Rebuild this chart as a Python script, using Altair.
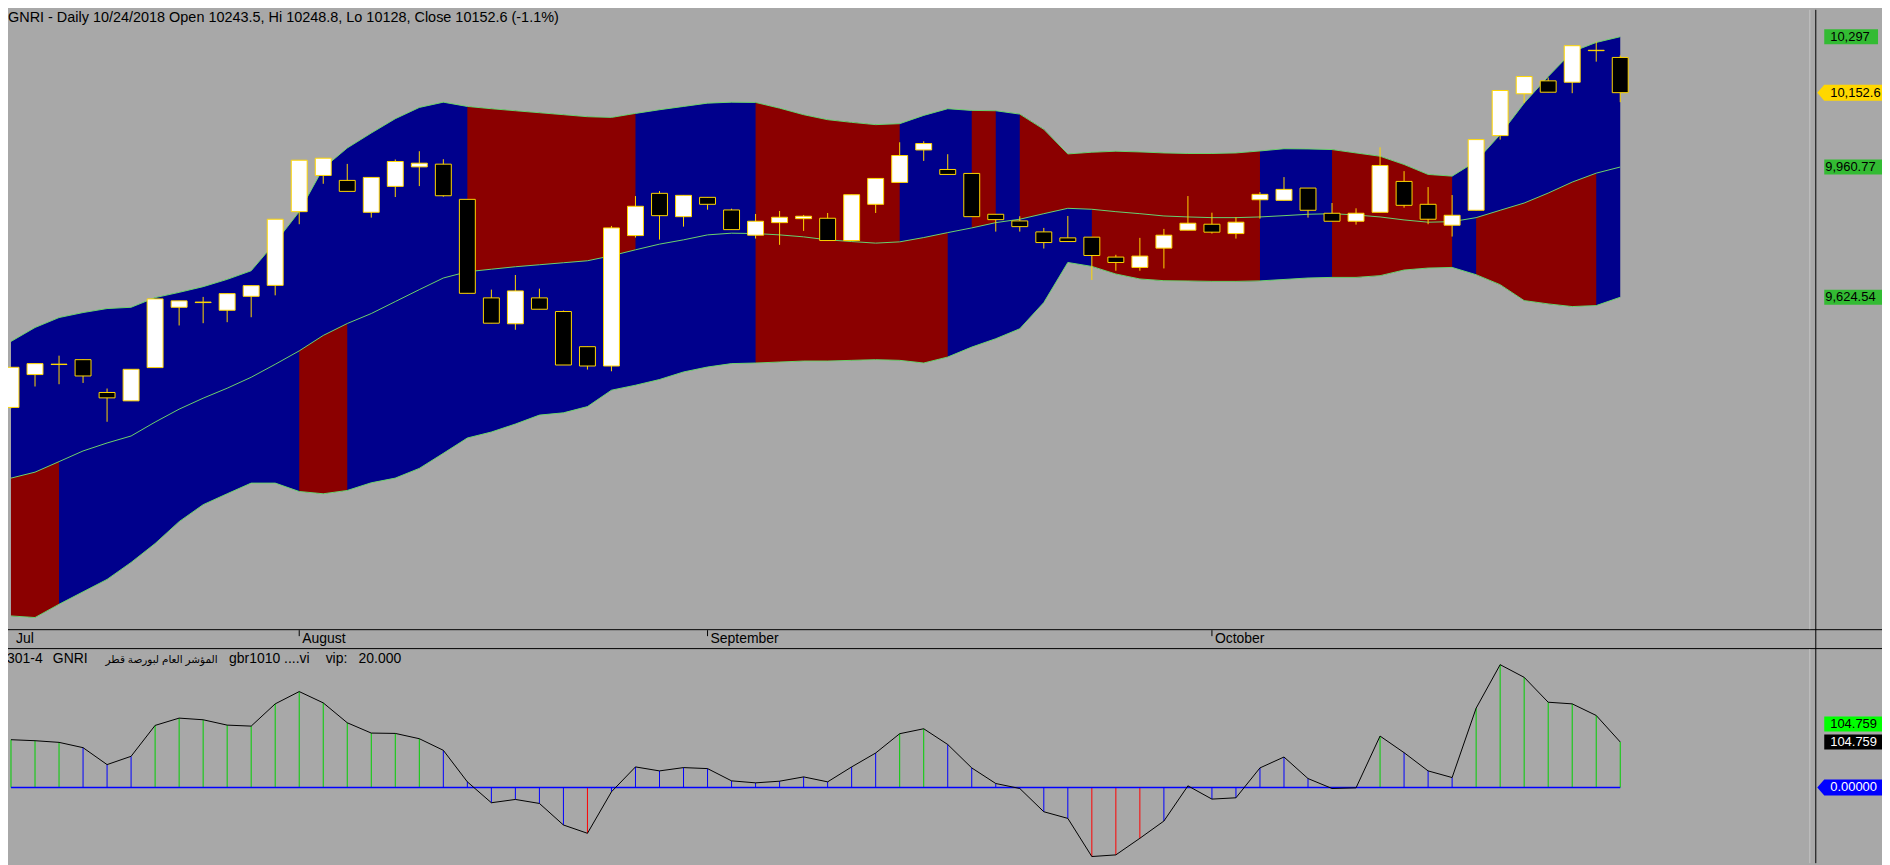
import altair as alt
import pandas as pd

# ---------------- data ----------------
opens = [9340.3, 9425.1, 9451.0, 9463.6, 9378.9, 9357.3, 9443.1, 9598.8, 9610.9, 9591.1,
         9627.1, 9655.3, 9845.5, 9939.0, 9926.2, 9843.9, 9910.8, 9961.1, 9968.1, 9877.3,
         9623.0, 9556.2, 9623.0, 9587.8, 9497.1, 9447.2, 9783.8, 9892.8, 9832.6, 9882.5,
         9849.9, 9784.8, 9817.2, 9827.5, 9828.5, 9771.0, 9864.5, 9921.0, 10004.8, 9954.4,
         9944.2, 9838.8, 9821.6, 9793.3, 9777.9, 9779.7, 9728.3, 9701.6, 9751.4, 9797.7,
         9813.1, 9789.0, 9876.3, 9874.8, 9906.4, 9841.4, 9820.8, 9843.9, 9923.6, 9864.5,
         9810.5, 9849.1, 10041.8, 10149.7, 10183.1, 10179.5, 10261.0, 10243.5]
highs = [9444.5, 9453.4, 9473.9, 9464.0, 9389.1, 9438.7, 9620.4, 9615.3, 9625.5, 9634.0,
         9654.6, 9826.0, 9978.3, 9983.5, 9968.8, 9933.9, 9980.1, 10001.5, 9980.9, 9877.3,
         9644.3, 9682.1, 9646.9, 9590.3, 9497.1, 9808.7, 9885.8, 9898.7, 9887.6, 9882.5,
         9853.2, 9839.6, 9847.3, 9837.0, 9842.1, 9889.2, 9931.3, 10024.6, 10027.2, 9993.8,
         9944.2, 9838.8, 9833.7, 9803.6, 9834.4, 9779.7, 9734.2, 9777.9, 9801.0, 9885.8,
         9842.9, 9831.1, 9896.1, 9934.7, 9906.4, 9867.8, 9854.2, 10011.7, 9950.1, 9909.0,
         9888.4, 10031.5, 10158.2, 10194.2, 10191.6, 10273.8, 10284.1, 10248.8]
lows = [9338.0, 9394.3, 9400.2, 9403.5, 9303.3, 9357.3, 9443.1, 9551.8, 9557.7, 9560.3,
        9573.1, 9629.6, 9813.1, 9917.4, 9897.9, 9830.1, 9883.3, 9911.5, 9884.0, 9634.8,
        9557.7, 9540.7, 9593.7, 9449.8, 9438.0, 9433.6, 9778.7, 9773.5, 9806.9, 9850.6,
        9799.2, 9776.1, 9759.9, 9795.9, 9770.2, 9771.0, 9842.1, 9921.0, 9976.5, 9941.6,
        9832.6, 9794.1, 9794.1, 9750.4, 9767.6, 9669.2, 9693.1, 9693.1, 9699.0, 9797.7,
        9789.0, 9776.1, 9827.5, 9874.8, 9830.1, 9820.8, 9812.1, 9843.9, 9855.8, 9813.1,
        9781.3, 9849.1, 10031.5, 10125.6, 10153.8, 10151.3, 10232.7, 10128.0]
closes = [9443.9, 9453.4, 9452.0, 9421.5, 9365.0, 9438.7, 9620.4, 9615.3, 9612.2, 9634.0,
          9654.6, 9826.0, 9978.3, 9983.5, 9897.9, 9933.9, 9975.0, 9970.6, 9886.6, 9634.8,
          9557.7, 9641.0, 9593.7, 9449.8, 9447.2, 9803.6, 9859.4, 9835.2, 9887.6, 9864.5,
          9799.2, 9820.8, 9831.1, 9833.7, 9771.0, 9889.2, 9931.3, 9990.4, 10021.3, 9941.6,
          9832.6, 9824.9, 9806.9, 9765.8, 9768.4, 9732.4, 9714.4, 9730.9, 9784.8, 9815.7,
          9792.6, 9818.3, 9890.2, 9903.0, 9849.1, 9820.8, 9841.4, 9964.7, 9861.9, 9826.0,
          9836.2, 10031.5, 10158.2, 10194.2, 10153.8, 10273.8, 10262.0, 10152.6]
upper_band = [9510.7, 9546.6, 9572.3, 9585.2, 9595.5, 9598.8, 9623.7, 9637.3, 9652.0, 9670.8,
              9693.1, 9765.8, 9845.5, 9957.8, 10009.9, 10048.5, 10085.5, 10114.5, 10128.1, 10117.1,
              10111.2, 10106.0, 10100.9, 10095.8, 10090.6, 10088.8, 10099.1, 10108.6, 10117.1, 10125.6,
              10128.1, 10127.4, 10112.7, 10095.8, 10082.9, 10076.0, 10070.1, 10072.6, 10094.0, 10111.2,
              10106.8, 10106.0, 10097.3, 10058.0, 9994.5, 9998.9, 10001.5, 9999.7, 9997.1, 9995.6,
              9995.6, 9997.1, 10002.2, 10007.9, 10007.4, 10005.8, 9997.1, 9988.6, 9967.3, 9941.6,
              9937.2, 9975.8, 10044.4, 10125.6, 10194.2, 10258.4, 10282.3, 10297.0]
middle_band = [9157.9, 9173.3, 9200.5, 9228.0, 9248.6, 9266.6, 9302.5, 9335.9, 9364.2, 9389.9,
               9418.2, 9451.6, 9486.3, 9526.1, 9556.9, 9582.6, 9613.5, 9644.3, 9674.3, 9690.5,
               9697.0, 9703.4, 9708.5, 9713.7, 9718.8, 9731.7, 9747.1, 9761.7, 9772.8, 9785.6,
               9790.0, 9789.0, 9785.6, 9780.5, 9772.8, 9768.4, 9764.3, 9767.6, 9778.7, 9791.5,
               9803.6, 9817.2, 9826.0, 9840.3, 9854.2, 9851.7, 9845.5, 9840.3, 9834.4, 9831.9,
               9830.1, 9830.1, 9831.9, 9835.2, 9838.8, 9840.3, 9837.0, 9831.9, 9824.2, 9818.3,
               9819.8, 9830.1, 9849.1, 9867.8, 9893.5, 9921.8, 9944.9, 9960.77]
lower_band = [8802.2, 8798.1, 8832.3, 8864.4, 8896.5, 8940.2, 8989.0, 9045.6, 9089.3, 9117.5,
              9145.0, 9145.0, 9123.4, 9117.5, 9126.0, 9145.8, 9157.9, 9183.0, 9221.8, 9261.4,
              9276.8, 9297.4, 9320.5, 9326.4, 9342.4, 9384.8, 9397.6, 9412.3, 9431.8, 9444.6,
              9453.4, 9454.9, 9457.5, 9460.0, 9460.0, 9461.8, 9463.6, 9461.8, 9454.9, 9470.3,
              9496.0, 9517.6, 9543.3, 9610.9, 9714.4, 9704.2, 9684.6, 9671.8, 9667.4, 9666.6,
              9665.6, 9665.6, 9666.9, 9670.5, 9674.3, 9675.9, 9675.9, 9680.3, 9694.9, 9700.0,
              9701.6, 9682.8, 9657.1, 9616.0, 9607.5, 9600.6, 9603.2, 9624.54]
indicator = [110.0, 107.7, 103.9, 91.7, 52.7, 71.8, 142.9, 159.7, 155.9, 143.6,
             141.3, 192.5, 220.8, 194.8, 149.0, 125.3, 124.5, 112.3, 85.6, 13.0,
             -35.1, -27.5, -36.7, -86.3, -105.4, -9.9, 47.4, 38.2, 45.8, 43.5,
             15.3, 10.7, 14.5, 24.4, 13.0, 47.4, 79.4, 123.8, 135.2, 99.0,
             45.1, 9.2, -2.3, -55.8, -71.1, -158.9, -155.1, -116.9, -77.2, 3.8,
             -26.7, -23.7, 45.1, 70.2, 20.6, -2.3, -0.8, 118.4, 80.2, 38.2,
             22.9, 182.6, 282.7, 253.6, 196.3, 192.5, 165.8, 104.759]
upper_red_runs = [(19, 26), (31, 37), (40, 41), (42, 52), (55, 60)]
lower_red_runs = [(0, 2), (12, 14), (31, 39), (45, 52), (55, 60), (61, 66)]
month_names = ["Jul", "August", "September", "October"]
month_start_bar = [0, 12, 29, 50]
price_label_values = [10297, 10152.6, 9960.77, 9624.54]
price_label_texts = ["10,297", "10,152.6", "9,960.77", "9,624.54"]
ind_label_values = [104.759, 104.759, 0.0]
ind_label_texts = ["104.759", "104.759", "0.00000"]
title_text = "GNRI - Daily 10/24/2018 Open 10243.5, Hi 10248.8, Lo 10128, Close 10152.6 (-1.1%)"
header_parts = ["301-4", "GNRI", "المؤشر العام لبورصة قطر", "gbr1010 ....vi", "vip:", "20.000"]

# ---------------- styling ----------------
FONT = "Liberation Sans, Arial, DejaVu Sans, sans-serif"
W, H = 1882, 857
BG = "#A8A8A8"
BLUE = "#00008C"
RED = "#8B0000"
LINE = "#6CD36C"
CANDLE = "#FFD700"
LGREEN = "#33BB33"

n = len(closes)
df = pd.DataFrame({
    "i": list(range(n)), "open": opens, "high": highs, "low": lows, "close": closes,
    "upper": upper_band, "middle": middle_band, "lower": lower_band, "ind": indicator,
})

xs = alt.Scale(domain=[0.0825, 77.6907], nice=False, zero=False)
ys_top = alt.Scale(domain=[8164.2, 10366.4], nice=False, zero=False)
ys_bot = alt.Scale(domain=[-174.2, 1790.1], nice=False, zero=False)


def X(f="i"):
    return alt.X(f + ":Q", scale=xs, axis=None)


def YT(f):
    return alt.Y(f + ":Q", scale=ys_top, axis=None)


def YB(f):
    return alt.Y(f + ":Q", scale=ys_bot, axis=None)


def runs_df(runs, top, bot):
    rows = []
    for k, (a, b) in enumerate(runs):
        for j in range(a, b + 1):
            rows.append({"run": k, "i": j, "top": top[j], "bot": bot[j]})
    return pd.DataFrame(rows)


base = alt.Chart(df)

# ---------------- price panel ----------------
band_fill = base.mark_area(color=BLUE, opacity=1).encode(x=X(), y=YT("upper"), y2="lower:Q")
red_u = alt.Chart(runs_df(upper_red_runs, upper_band, middle_band)).mark_area(color=RED, opacity=1).encode(
    x=X(), y=YT("top"), y2="bot:Q", detail="run:N")
red_l = alt.Chart(runs_df(lower_red_runs, middle_band, lower_band)).mark_area(color=RED, opacity=1).encode(
    x=X(), y=YT("top"), y2="bot:Q", detail="run:N")
band_lines = [base.mark_line(color=LINE, strokeWidth=1).encode(x=X(), y=YT(f))
              for f in ["upper", "middle", "lower"]]
wick = base.mark_rule(color=CANDLE, strokeWidth=1).encode(x=X(), y=YT("low"), y2="high:Q")
body = base.mark_bar(size=16, stroke=CANDLE, strokeWidth=1).encode(
    x=X(), y=YT("open"), y2="close:Q",
    fill=alt.condition("datum.close >= datum.open", alt.value("white"), alt.value("black")))

BOX_SHORT = "M-0.65,-0.1875L0.7,-0.1875L0.7,0.1875L-0.65,0.1875Z"
BOX_LONG = "M-0.65,-0.1875L1.1,-0.1875L1.1,0.1875L-0.65,0.1875Z"
ARROW = "M-0.825,0L-0.65,-0.2L1.1,-0.2L1.1,0.2L-0.65,0.2Z"


def label(value, text, fill, tcolor, shape, yscale, text_x, yoff=0):
    d = alt.Chart(pd.DataFrame({"v": [value], "t": [text]}))
    Y = alt.Y("v:Q", scale=yscale, axis=None)
    box = d.mark_point(shape=shape, size=6400, filled=True, color=fill, opacity=1,
                       strokeWidth=0, yOffset=yoff).encode(x=alt.value(1850), y=Y)
    txt = d.mark_text(align="left", baseline="middle", font=FONT, fontSize=13,
                      color=tcolor, yOffset=yoff).encode(x=alt.value(text_x), y=Y, text="t:N")
    return [box, txt]


top_labels = []
top_labels += label(price_label_values[0], price_label_texts[0], LGREEN, "black", BOX_SHORT, ys_top, 1830)
top_labels += label(price_label_values[1], price_label_texts[1], "#FFD700", "black", ARROW, ys_top, 1830)
top_labels += label(price_label_values[2], price_label_texts[2], LGREEN, "black", BOX_LONG, ys_top, 1825)
top_labels += label(price_label_values[3], price_label_texts[3], LGREEN, "black", BOX_LONG, ys_top, 1825)

top = alt.layer(band_fill, red_u, red_l, *band_lines, wick, body, *top_labels)

# ---------------- indicator panel ----------------
ind_base = base.transform_calculate(
    zero="0",
    col="datum.ind > 100 ? '#00D000' : (datum.ind < -100 ? '#FF0000' : '#0000FF')")
stems = ind_base.mark_rule(strokeWidth=1).encode(
    x=X(), y=YB("ind"), y2="zero:Q", color=alt.Color("col:N", scale=None))
zero_line = ind_base.mark_line(color="#0000FF", strokeWidth=1.5).encode(x=X(), y=YB("zero"))
ind_line = base.mark_line(color="black", strokeWidth=1).encode(x=X(), y=YB("ind"))

bot_labels = []
bot_labels += label(ind_label_values[0], ind_label_texts[0], "#00FF00", "black", BOX_LONG, ys_bot, 1830, -18)
bot_labels += label(ind_label_values[1], ind_label_texts[1], "#000000", "white", BOX_LONG, ys_bot, 1830)
bot_labels += label(ind_label_values[2], ind_label_texts[2], "#0000FF", "white", ARROW, ys_bot, 1830)

bottom = alt.layer(stems, zero_line, ind_line, *bot_labels)

# ---------------- frame, texts, month strip ----------------
one = alt.Chart(pd.DataFrame({"a": [0]}))
frame = [
    one.mark_rule(color="black", strokeWidth=1).encode(x=alt.value(0), x2=alt.value(W), y=alt.value(622.5)),
    one.mark_rule(color="black", strokeWidth=1).encode(x=alt.value(0), x2=alt.value(W), y=alt.value(641.5)),
    one.mark_rule(color="#C4C4C4", strokeWidth=1).encode(x=alt.value(1809.5), y=alt.value(0), y2=alt.value(622)),
    one.mark_rule(color="#C4C4C4", strokeWidth=1).encode(x=alt.value(1809.5), y=alt.value(642), y2=alt.value(H)),
    one.mark_rule(color="black", strokeWidth=1).encode(x=alt.value(1815.5), y=alt.value(0), y2=alt.value(H)),
]

months = alt.Chart(pd.DataFrame({"i": month_start_bar, "name": month_names}))
month_ticks = months.transform_filter("datum.i > 0").mark_rule(color="black", strokeWidth=1).encode(
    x=X(), y=alt.value(623), y2=alt.value(629))
month_first = months.transform_filter("datum.i == 0").mark_text(
    align="left", baseline="alphabetic", dx=5, font=FONT, fontSize=14, color="black").encode(
    x=X(), y=alt.value(636), text="name:N")
month_rest = months.transform_filter("datum.i > 0").mark_text(
    align="left", baseline="alphabetic", dx=3, font=FONT, fontSize=14, color="black").encode(
    x=X(), y=alt.value(636), text="name:N")

title = alt.Chart(pd.DataFrame({"t": [title_text]})).mark_text(
    align="left", baseline="alphabetic", font=FONT, fontSize=14.5, color="black").encode(
    x=alt.value(0), y=alt.value(12), text="t:N")

header_x = [-1, 45, 98, 222, 319, 352]
header_size = [14, 14, 10.5, 14, 14, 14]
headers = []
for part, hx, hs in zip(header_parts, header_x, header_size):
    headers.append(alt.Chart(pd.DataFrame({"t": [part]})).mark_text(
        align="left", baseline="alphabetic", font=FONT, fontSize=hs, color="black").encode(
        x=alt.value(hx), y=alt.value(656), text="t:N"))

misc = alt.layer(*frame, month_ticks, month_first, month_rest, title, *headers)

chart = alt.layer(top, bottom, misc).resolve_scale(y="independent").properties(
    width=W, height=H, padding=0,
    autosize=alt.AutoSizeParams(type="none"),
    background=BG,
).configure_view(stroke=None)

chart.save("out.html", embed_options={"renderer": "svg", "actions": False})
